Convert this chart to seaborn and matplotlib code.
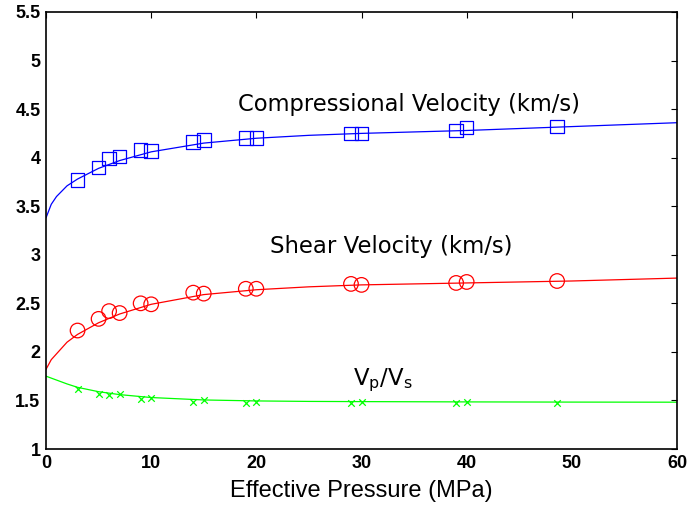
import numpy as np
import pandas as pd
import matplotlib
matplotlib.use("Agg")
import matplotlib.pyplot as plt
import seaborn as sns

# Measured data points (pressure in MPa)
pressure = [3, 5, 6, 7, 9, 10, 14, 15, 19, 20, 29, 30, 39, 40, 48.6]
vp_points = [3.77, 3.90, 3.99, 4.01, 4.08, 4.07, 4.16, 4.18, 4.20, 4.20, 4.25, 4.25, 4.28, 4.31, 4.32]
vs_points = [2.22, 2.34, 2.42, 2.40, 2.50, 2.49, 2.61, 2.60, 2.65, 2.65, 2.70, 2.69, 2.71, 2.72, 2.73]
ratio_points = [1.62, 1.565, 1.56, 1.565, 1.52, 1.525, 1.487, 1.50, 1.477, 1.487, 1.478, 1.487, 1.475, 1.487, 1.478]

# Fitted curves
curve_p = [0, 0.5, 1, 2, 3, 5, 7, 10, 15, 20, 25, 30, 40, 50, 60]
vp_curve = [3.38, 3.52, 3.60, 3.71, 3.78, 3.89, 3.97, 4.06, 4.15, 4.20, 4.23, 4.25, 4.28, 4.32, 4.36]
vs_curve = [1.82, 1.92, 1.98, 2.10, 2.18, 2.30, 2.39, 2.49, 2.59, 2.64, 2.67, 2.69, 2.71, 2.73, 2.76]
ratio_curve = [1.75, 1.73, 1.71, 1.67, 1.635, 1.59, 1.56, 1.53, 1.505, 1.495, 1.49, 1.488, 1.485, 1.483, 1.482]

x_ticks = [0, 10, 20, 30, 40, 50, 60]
y_ticks = [1, 1.5, 2, 2.5, 3, 3.5, 4, 4.5, 5, 5.5]
y_tick_labels = ["1", "1.5", "2", "2.5", "3", "3.5", "4", "4.5", "5", "5.5"]

sns.set_style("white")
plt.rcParams['font.family'] = ['Liberation Sans', 'DejaVu Sans']

fig = plt.figure(figsize=(6.91, 5.12), dpi=100)
ax = fig.add_axes([46/691, 1 - 449/512, (677-46)/691, (449-12)/512])

curves = pd.DataFrame({"p": curve_p, "vp": vp_curve, "vs": vs_curve, "r": ratio_curve})
pts = pd.DataFrame({"p": pressure, "vp": vp_points, "vs": vs_points, "r": ratio_points})

sns.lineplot(data=curves, x="p", y="vp", color=(0, 0, 1), lw=0.9, ax=ax)
sns.lineplot(data=curves, x="p", y="vs", color=(1, 0, 0), lw=0.9, ax=ax)
sns.lineplot(data=curves, x="p", y="r", color=(0, 1, 0), lw=0.9, ax=ax)

sns.scatterplot(data=pts, x="p", y="vp", marker="s", s=95, facecolor="none",
                edgecolor=(0, 0, 1), linewidth=0.9, ax=ax)
sns.scatterplot(data=pts, x="p", y="vs", marker="o", s=110, facecolor="none",
                edgecolor=(1, 0, 0), linewidth=0.9, ax=ax)
sns.scatterplot(data=pts, x="p", y="r", marker="x", s=22, color=(0, 1, 0),
                linewidth=0.9, ax=ax)

ax.set_xlim(0, 60)
ax.set_ylim(1, 5.5)
ax.set_xticks(x_ticks)
ax.set_yticks(y_ticks)
ax.set_yticklabels(y_tick_labels)
ax.tick_params(direction="in", length=4, width=0.8, top=True, right=True,
               labelsize=13, colors="black", pad=4)
for lab in ax.get_xticklabels() + ax.get_yticklabels():
    lab.set_fontweight("bold")
for sp in ax.spines.values():
    sp.set_color("black")
    sp.set_linewidth(1.2)

ax.set_xlabel("Effective Pressure (MPa)", fontsize=17, color="black",
              family=["Liberation Sans Narrow", "Liberation Sans"], labelpad=6)
ax.set_ylabel("")

ax.text(18.25, 4.55, "Compressional Velocity (km/s)", fontsize=16.3,
        family=["DejaVu Sans"], va="center", ha="left", color="black")
ax.text(21.3, 3.09, "Shear Velocity (km/s)", fontsize=16.4,
        family=["DejaVu Sans"], va="center", ha="left", color="black")
ax.text(29.2, 1.71, r"V$_\mathregular{p}$/V$_\mathregular{s}$", fontsize=16.4,
        family=["DejaVu Sans"], va="center", ha="left", color="black")

fig.savefig("out.png", dpi=100)
